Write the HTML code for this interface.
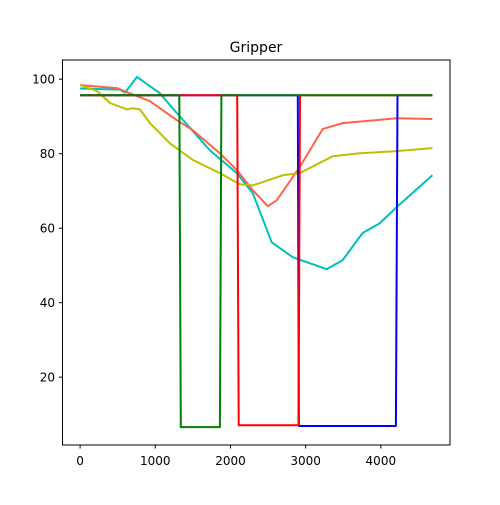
<!DOCTYPE html>
<html><head><meta charset="utf-8"><style>
body{margin:0;background:#fff;font-family:"Liberation Sans","DejaVu Sans",sans-serif}
svg text{font-family:"DejaVu Sans","Liberation Sans",sans-serif;font-size:12px}
</style></head><body>
<svg id="chart" width="500" height="500" xmlns="http://www.w3.org/2000/svg">
<rect width="500" height="500" fill="#fff"/>
<text x="256" y="52" text-anchor="middle" style="font-size:14px">Gripper</text>
<g id="plot"></g>
<rect x="62.5" y="60" width="387.5" height="385" fill="none" stroke="#000" stroke-width="1"/>
<g id="axes"></g>
</svg>
<script>
const xTicks=[0,1000,2000,3000,4000];
const yTicks=[20,40,60,80,100];
const cyanX=[0,531,597,757,1062,1288,1726,2084,2297,2549,2828,3279,3491,3757,3983,4208,4686];
const cyanY=[97.5,97.2,96.4,100.6,96.2,90.9,80.9,74.8,69.4,56.2,52.2,49.0,51.4,58.7,61.3,65.6,74.2];
const orangeX=[0,491,624,929,1288,1500,1858,2084,2297,2496,2615,2921,3226,3491,4208,4686];
const orangeY=[98.4,97.6,96.5,94.1,89.0,86.3,80.1,75.6,70.2,65.9,67.5,76.4,86.6,88.2,89.5,89.3];
const yellowX=[0,226,398,624,690,796,929,1195,1500,1858,2124,2297,2695,2921,3359,3717,4208,4686];
const yellowY=[98.4,96.8,93.6,91.9,92.2,91.9,88.2,82.8,78.3,74.8,71.8,71.5,74.2,74.8,79.3,80.1,80.7,81.5];
const redX=[0,2090,2110,2905,2925,4686];
const redY=[95.7,95.7,7.1,7.1,95.7,95.7];
const blueX=[0,2895,2910,4200,4222,4686];
const blueY=[95.7,95.7,6.9,6.9,95.7,95.7];
const greenX=[0,1320,1340,1860,1880,4686];
const greenY=[95.7,95.7,6.6,6.6,95.7,95.7];

const X0=62.5,X1=450,Y0=445,Y1=60,xmin=-234,xmax=4920,ymin=1.8,ymax=105.15;
const sx=v=>X0+(v-xmin)/(xmax-xmin)*(X1-X0);
const sy=v=>Y0-(v-ymin)/(ymax-ymin)*(Y0-Y1);
const NS="http://www.w3.org/2000/svg";
const plot=document.getElementById('plot'),axes=document.getElementById('axes');
function line(xs,ys,color,name){
  const p=document.createElementNS(NS,'polyline');
  p.setAttribute('points',xs.map((x,i)=>sx(x).toFixed(1)+','+sy(ys[i]).toFixed(1)).join(' '));
  p.setAttribute('fill','none');p.setAttribute('stroke',color);p.setAttribute('stroke-width','2');
  p.setAttribute('stroke-linejoin','round');
  
  
  plot.appendChild(p);
}
line(cyanX,cyanY,'#00bfbf','cyan-series');
line(orangeX,orangeY,'#ff6347','tomato-series');
line(yellowX,yellowY,'#bfbf00','yellow-series');
line(blueX,blueY,'#0000ff','blue-series');
line(redX,redY,'#ff0000','red-series');
line(greenX,greenY,'#008000','green-series');
xTicks.forEach(t=>{
  const x=sx(t);
  const l=document.createElementNS(NS,'line');
  l.setAttribute('x1',x);l.setAttribute('x2',x);l.setAttribute('y1',445);l.setAttribute('y2',448.5);l.setAttribute('stroke','#000');
  
  
  axes.appendChild(l);
  const tx=document.createElementNS(NS,'text');
  tx.setAttribute('x',x);tx.setAttribute('y',465);tx.setAttribute('text-anchor','middle');tx.textContent=t;
  
  
  axes.appendChild(tx);
});
yTicks.forEach(t=>{
  const y=sy(t);
  const l=document.createElementNS(NS,'line');
  l.setAttribute('x1',59);l.setAttribute('x2',62.5);l.setAttribute('y1',y);l.setAttribute('y2',y);l.setAttribute('stroke','#000');
  
  
  axes.appendChild(l);
  const tx=document.createElementNS(NS,'text');
  tx.setAttribute('x',55);tx.setAttribute('y',y+4.5);tx.setAttribute('text-anchor','end');tx.textContent=t;
  
  
  axes.appendChild(tx);
});
</script>
</body></html>
